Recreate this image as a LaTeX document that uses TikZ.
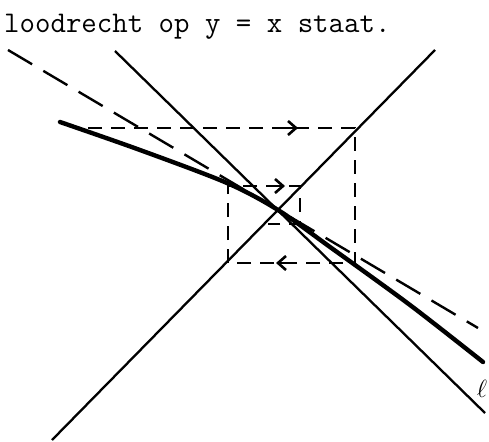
\documentclass[tikz,border=0pt]{standalone}
\usetikzlibrary{arrows.meta}
\begin{document}
\begin{tikzpicture}[x=1pt,y=-1pt,
  ln/.style={line width=2.3pt},
  thk/.style={line width=4.4pt, line cap=round},
  tanline/.style={line width=2.4pt, dash pattern=on 28pt off 13pt},
  cob/.style={line width=2.6pt, dash pattern=on 14pt off 9pt},
  arr/.style={line width=2.6pt, -{Straight Barb[length=8pt,width=14pt,line width=2.6pt]}}]
\useasboundingbox (0,0) rectangle (489,441);
\node[anchor=base west, inner sep=0, font=\ttfamily\fontsize{30}{30}\selectfont] (txt) at (4,33) {loodrecht op y = x staat.};
% line y = x
\coordinate (d1) at (52,440); \coordinate (d2) at (435,50);
\draw[ln] (d1) -- (d2);
% line l
\coordinate (l1) at (115,51); \coordinate (l2) at (485,413);
\draw[ln] (l1) -- (l2);
% dashed tangent
\coordinate (t1) at (8,50); \coordinate (t2) at (478,328);
\draw[tanline] (t1) -- (t2);
% thick curve
\draw[thk] plot[smooth] coordinates {(60,122) (140,150) (227,183) (278,210) (330,247) (410,305) (483,362)};
% cobweb
\coordinate (a0) at (88,128); \coordinate (a1) at (355,128); \coordinate (a2) at (355,263);
\coordinate (a3) at (228,263); \coordinate (a4) at (228,186); \coordinate (a5) at (300,186);
\coordinate (a6) at (300,224); \coordinate (a7) at (268,224);
\draw[cob] (a0) -- (a1) -- (a2) -- (a3) -- (a4) -- (a5) -- (a6) -- (a7);
\draw[arr] (282,128) -- (298,128);
\draw[arr] (292,263) -- (276,263);
\draw[arr] (270,186) -- (285,186);
\node[inner sep=0, font=\fontsize{26}{26}\selectfont] (lab) at (482,389) {$\ell$};
\end{tikzpicture}
\end{document}
